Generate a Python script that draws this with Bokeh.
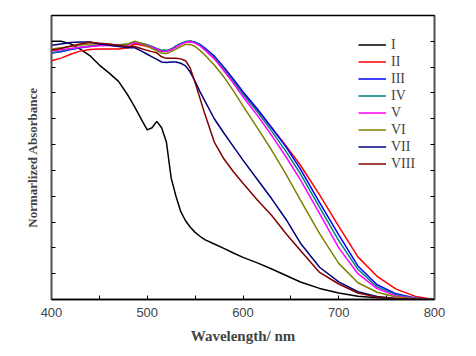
from bokeh.plotting import figure
from bokeh.models import Range1d, LinearAxis, FixedTicker, Legend, LegendItem, CustomJSTickFormatter
from bokeh.embed import file_html
from bokeh.resources import INLINE

wavelength = [400, 410, 420, 430, 440, 450, 460, 470, 480, 487, 495, 500, 505, 510, 515, 520, 525,
              530, 535, 540, 545, 550, 555, 560, 570, 580, 590, 600, 615, 630, 645, 660, 680, 700,
              720, 740, 760, 780, 800]

s_I = [1.0, 1.0, 0.99, 0.97, 0.945, 0.908, 0.878, 0.845, 0.79, 0.745, 0.69, 0.657, 0.665, 0.69, 0.665,
       0.61, 0.47, 0.40, 0.34, 0.305, 0.28, 0.26, 0.245, 0.232, 0.215, 0.198, 0.18, 0.163, 0.142,
       0.118, 0.093, 0.068, 0.043, 0.025, 0.013, 0.007, 0.003, 0.001, 0.0]
s_II = [0.925, 0.935, 0.95, 0.962, 0.968, 0.97, 0.97, 0.97, 0.975, 0.99, 0.985, 0.98, 0.975, 0.968,
        0.963, 0.962, 0.968, 0.98, 0.99, 0.997, 1.0, 0.995, 0.985, 0.97, 0.94, 0.898, 0.85, 0.8,
        0.735, 0.665, 0.595, 0.52, 0.405, 0.283, 0.165, 0.09, 0.04, 0.012, 0.0]
s_III = [0.955, 0.96, 0.968, 0.975, 0.98, 0.985, 0.985, 0.985, 0.988, 0.995, 0.99, 0.985, 0.978, 0.97,
         0.963, 0.962, 0.968, 0.98, 0.99, 0.998, 1.0, 0.997, 0.988, 0.975, 0.943, 0.9, 0.853, 0.805,
         0.738, 0.665, 0.59, 0.505, 0.375, 0.25, 0.13, 0.057, 0.022, 0.006, 0.0]
s_IV = [0.955, 0.962, 0.97, 0.977, 0.982, 0.986, 0.987, 0.987, 0.99, 0.998, 0.992, 0.987, 0.98, 0.972,
        0.966, 0.965, 0.97, 0.982, 0.992, 0.999, 1.0, 0.996, 0.985, 0.97, 0.937, 0.893, 0.845, 0.795,
        0.727, 0.652, 0.573, 0.487, 0.357, 0.228, 0.117, 0.049, 0.018, 0.005, 0.0]
s_V = [0.962, 0.967, 0.972, 0.977, 0.98, 0.983, 0.984, 0.984, 0.987, 0.995, 0.99, 0.984, 0.977, 0.969,
       0.962, 0.961, 0.967, 0.978, 0.988, 0.996, 0.998, 0.993, 0.982, 0.967, 0.932, 0.886, 0.837, 0.785,
       0.713, 0.635, 0.552, 0.463, 0.333, 0.2, 0.1, 0.042, 0.014, 0.004, 0.0]
s_VI = [0.97, 0.975, 0.98, 0.986, 0.99, 0.99, 0.988, 0.985, 0.99, 1.0, 0.99, 0.982, 0.972, 0.963,
        0.955, 0.953, 0.96, 0.97, 0.98, 0.988, 0.988, 0.98, 0.965, 0.948, 0.908, 0.862, 0.808, 0.75,
        0.665, 0.578, 0.485, 0.385, 0.255, 0.14, 0.065, 0.028, 0.01, 0.003, 0.0]
s_VII = [0.985, 0.99, 0.995, 0.997, 0.997, 0.99, 0.985, 0.98, 0.975, 0.975, 0.96, 0.95, 0.94, 0.93,
         0.92, 0.918, 0.92, 0.92, 0.915, 0.905, 0.88, 0.845, 0.805, 0.77, 0.7, 0.645, 0.592, 0.54,
         0.465, 0.39, 0.31, 0.218, 0.125, 0.068, 0.03, 0.012, 0.004, 0.001, 0.0]
s_VIII = [0.965, 0.972, 0.982, 0.99, 0.996, 0.993, 0.99, 0.985, 0.98, 0.98, 0.97, 0.965, 0.96, 0.955,
          0.94, 0.934, 0.934, 0.934, 0.932, 0.925, 0.895, 0.84, 0.78, 0.72, 0.61, 0.545, 0.495, 0.45,
          0.385, 0.325, 0.255, 0.19, 0.105, 0.06, 0.025, 0.01, 0.003, 0.001, 0.0]

labels = ["I", "II", "III", "IV", "V", "VI", "VII", "VIII"]
series = [s_I, s_II, s_III, s_IV, s_V, s_VI, s_VII, s_VIII]
colors = ["#000000", "#ff0000", "#0000ff", "#008080", "#ff00ff", "#808000", "#000080", "#800000"]
y_ticks = [0.0, 0.1, 0.2, 0.3, 0.4, 0.5, 0.6, 0.7, 0.8, 0.9, 1.0, 1.1]
x_ticks = [400, 500, 600, 700, 800]
x_minor = [450, 550, 650, 750]

p = figure(width=468, height=348, output_backend="svg", toolbar_location=None,
           x_range=Range1d(400, 800), y_range=Range1d(0, 1.1),
           min_border_left=51, min_border_right=34, min_border_top=15, min_border_bottom=49)
p.xgrid.visible = False
p.ygrid.visible = False
p.outline_line_color = "black"
p.outline_line_width = 1.5
p.background_fill_color = "white"
p.border_fill_color = "white"

items = []
for lab, ys, c in zip(labels, series, colors):
    r = p.line(wavelength, ys, line_color=c, line_width=1.5)
    items.append(LegendItem(label=lab, renderers=[r]))

# x axis
xa = p.xaxis[0]
xa.ticker = FixedTicker(ticks=x_ticks, minor_ticks=x_minor)
xa.major_tick_in = 4
xa.major_tick_out = 0
xa.minor_tick_in = 4
xa.minor_tick_out = 0
xa.axis_line_width = 1.5
xa.axis_line_color = "black"
xa.major_label_text_font = "Liberation Sans"
xa.major_label_text_font_size = "13px"
xa.major_label_standoff = 8
xa.axis_label = "Wavelength/ nm"
xa.axis_label_text_font = "Liberation Serif"
xa.axis_label_text_font_style = "bold"
xa.axis_label_text_font_size = "15px"
xa.axis_label_standoff = 8

blank = CustomJSTickFormatter(code="return ''")

ya = p.yaxis[0]
ya.ticker = FixedTicker(ticks=y_ticks)
ya.formatter = blank
ya.major_tick_in = 4
ya.major_tick_out = 0
ya.minor_tick_in = 0
ya.minor_tick_out = 0
ya.axis_line_width = 1.5
ya.axis_line_color = "#555555"
ya.major_label_standoff = 0
ya.axis_label = "Normarlized Absorbance"
ya.axis_label_text_font = "Liberation Serif"
ya.axis_label_text_font_style = "bold"
ya.axis_label_text_font_size = "13px"
ya.axis_label_standoff = 12

ra = LinearAxis(ticker=FixedTicker(ticks=y_ticks), formatter=blank)
ra.major_tick_in = 4
ra.major_tick_out = 0
ra.minor_tick_in = 0
ra.minor_tick_out = 0
ra.axis_line_width = 1.5
ra.axis_line_color = "#555555"
ra.major_label_standoff = 0
p.add_layout(ra, "right")

legend = Legend(items=items, location=(307, 127))
legend.border_line_color = None
legend.background_fill_alpha = 0
legend.label_text_font = "Liberation Serif"
legend.label_text_font_size = "14px"
legend.glyph_width = 28
legend.glyph_height = 17
legend.label_height = 17
legend.spacing = 0
legend.padding = 0
legend.margin = 0
legend.label_standoff = 5
p.add_layout(legend)

open("out.html", "w").write(file_html(p, INLINE))
